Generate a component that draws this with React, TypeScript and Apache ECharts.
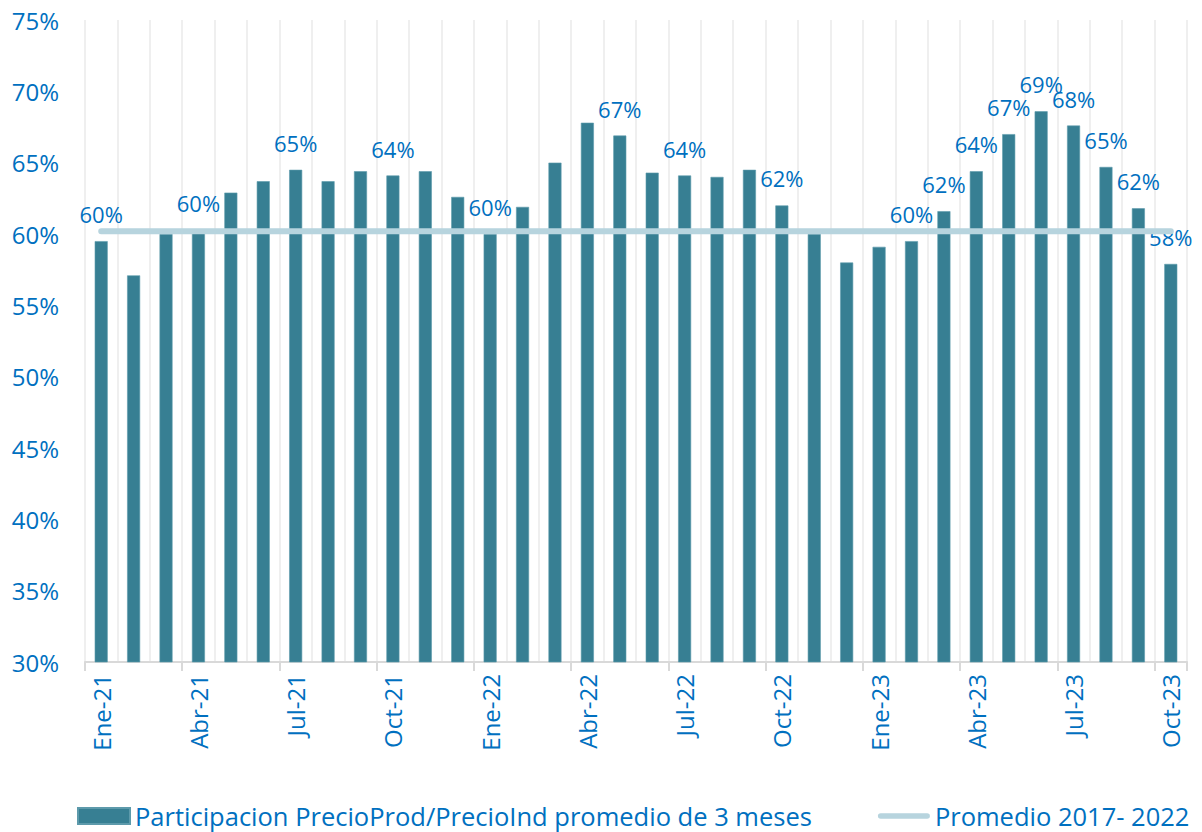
import React, { useEffect, useRef } from "react";
import * as echarts from "echarts";

const categories = [
  "Ene-21", "Feb-21", "Mar-21", "Abr-21", "May-21", "Jun-21", "Jul-21", "Ago-21", "Sep-21", "Oct-21", "Nov-21", "Dic-21",
  "Ene-22", "Feb-22", "Mar-22", "Abr-22", "May-22", "Jun-22", "Jul-22", "Ago-22", "Sep-22", "Oct-22", "Nov-22", "Dic-22",
  "Ene-23", "Feb-23", "Mar-23", "Abr-23", "May-23", "Jun-23", "Jul-23", "Ago-23", "Sep-23", "Oct-23",
];

const participacion = [
  59.5, 57.1, 60.0, 60.3, 62.9, 63.7, 64.5, 63.7, 64.4, 64.1, 64.4, 62.6,
  60.0, 61.9, 65.0, 67.8, 66.9, 64.3, 64.1, 64.0, 64.5, 62.0, 60.0, 58.0,
  59.1, 59.5, 61.6, 64.4, 67.0, 68.6, 67.6, 64.7, 61.8, 57.9,
];

const promedio20172022 = 60.2;

const labeledIndices = [0, 3, 6, 9, 12, 16, 18, 21, 25, 26, 27, 28, 29, 30, 31, 32, 33];

const yTicks = { min: 30, max: 75, interval: 5 };

const barName = "Participacion PrecioProd/PrecioInd promedio de 3 meses";
const lineName = "Promedio 2017- 2022";

const BLUE_TEXT = "#0070C0";
const FONT = "'Open Sans', 'Noto Sans', sans-serif";
const LINE_ICON = "path://M3,0 L53,0 A3,3 0 0 1 53,6 L3,6 A3,3 0 0 1 3,0 Z";

export default function App() {
  const ref = useRef<HTMLDivElement>(null);

  useEffect(() => {
    if (!ref.current) return;
    const chart = echarts.init(ref.current, undefined, { renderer: "svg" });

    const barData = participacion.map((v, i) => ({
      value: v,
      label: { show: labeledIndices.includes(i) },
    }));
    const lineData = categories.map(() => promedio20172022);

    chart.setOption({
      animation: false,
      backgroundColor: "#ffffff",
      textStyle: { fontFamily: FONT },
      grid: { left: 85, right: 15, top: 20, bottom: 170, containLabel: false },
      legend: {
        left: 77,
        top: 803,
        padding: 0,
        itemWidth: 52,
        itemHeight: 16,
        itemGap: 66,
        textStyle: { color: BLUE_TEXT, fontSize: 25.5, fontFamily: FONT },
        data: [
          { name: barName, icon: "rect" },
          {
            name: lineName,
            icon: LINE_ICON,
            itemStyle: { color: "#b7d4de", borderWidth: 0 },
          },
        ],
      },
      xAxis: {
        type: "category",
        data: categories,
        boundaryGap: true,
        axisLine: { show: true, lineStyle: { color: "#d9d9d9", width: 2 } },
        axisTick: { show: true, interval: 2, length: 9, lineStyle: { color: "#d9d9d9", width: 2 } },
        axisLabel: {
          interval: 2,
          rotate: 90,
          margin: 12,
          color: BLUE_TEXT,
          fontSize: 24,
          fontFamily: FONT,
        },
        splitLine: { show: true, interval: 0, lineStyle: { color: "#efefef", width: 2 } },
      },
      yAxis: {
        type: "value",
        min: yTicks.min,
        max: yTicks.max,
        interval: yTicks.interval,
        axisLine: { show: false },
        axisTick: { show: false },
        splitLine: { show: false },
        axisLabel: {
          formatter: "{value}%",
          margin: 26,
          color: BLUE_TEXT,
          fontSize: 24,
          fontFamily: FONT,
        },
      },
      series: [
        {
          name: barName,
          type: "bar",
          data: barData,
          barWidth: 13,
          itemStyle: { color: "#377f93", borderColor: "#5d9aab", borderWidth: 0.6 },
          label: {
            position: "top",
            distance: 16,
            color: BLUE_TEXT,
            fontSize: 22,
            fontFamily: FONT,
            formatter: (p: any) => Math.round(p.value) + "%",
          },
        },
        {
          name: lineName,
          type: "line",
          data: lineData,
          symbol: "none",
          showSymbol: false,
          z: 3,
          itemStyle: { color: "#b7d4de" },
          lineStyle: { color: "#b7d4de", width: 6, cap: "round" },
        },
      ],
    });

    return () => chart.dispose();
  }, []);

  return (
    <div
      ref={ref}
      style={{ position: "fixed", left: 0, top: 0, width: 1202, height: 832 }}
    />
  );
}
